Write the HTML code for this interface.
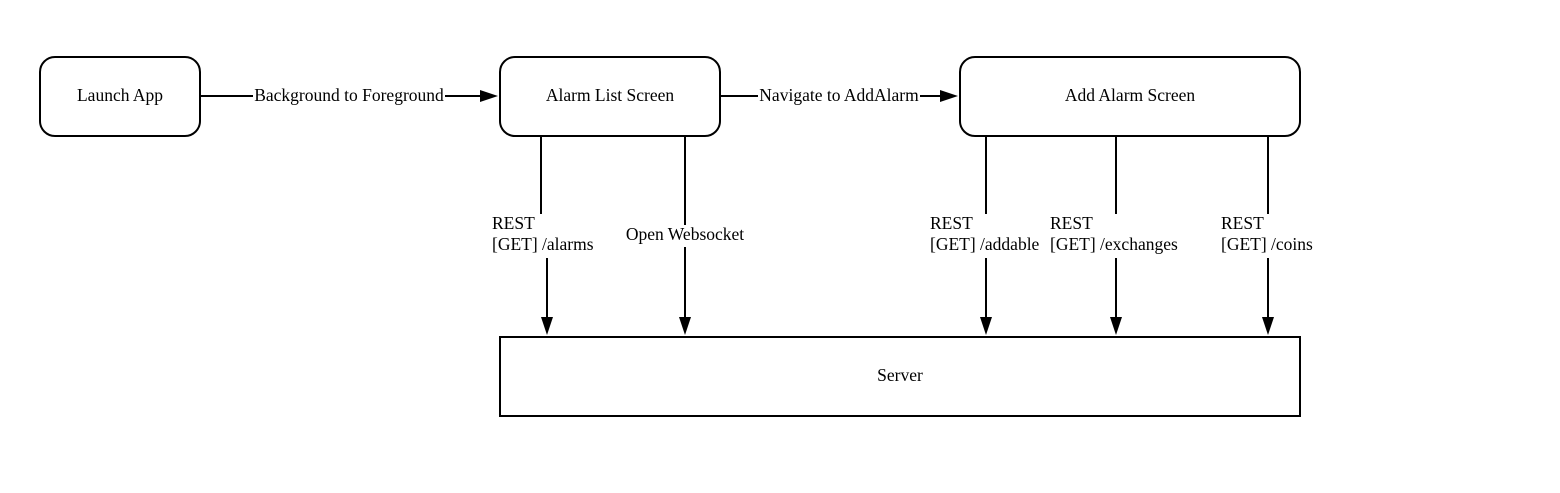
<!DOCTYPE html>
<html><head><meta charset="utf-8"><style>html,body{margin:0;padding:0;background:#fff;}svg{display:block}</style></head>
<body>
<svg width="1560" height="493" viewBox="0 0 1560 493" xmlns="http://www.w3.org/2000/svg" font-family="'Liberation Serif', serif" font-size="17.5" fill="#000">
<rect x="0" y="0" width="1560" height="493" fill="#fff"/>
<g fill="#fff" stroke="#000" stroke-width="2">
<rect x="40" y="57" width="160" height="79" rx="15"/>
<rect x="500" y="57" width="220" height="79" rx="15"/>
<rect x="960" y="57" width="340" height="79" rx="15"/>
<rect x="500" y="337" width="800" height="79"/>
</g>
<g fill="#000" text-anchor="middle">
<text x="120" y="101">Launch App</text>
<text x="610" y="101">Alarm List Screen</text>
<text x="1130" y="101">Add Alarm Screen</text>
<text x="900" y="381">Server</text>
</g>
<g stroke="#000" stroke-width="2" fill="none">
<line x1="200" y1="96" x2="253" y2="96"/>
<line x1="445" y1="96" x2="482" y2="96"/>
<line x1="720" y1="96" x2="758" y2="96"/>
<line x1="920" y1="96" x2="942" y2="96"/>
<line x1="541" y1="136" x2="541" y2="214"/>
<line x1="547" y1="258" x2="547" y2="320"/>
<line x1="685" y1="136" x2="685" y2="225"/>
<line x1="685" y1="247" x2="685" y2="320"/>
<line x1="986" y1="136" x2="986" y2="214"/>
<line x1="986" y1="258" x2="986" y2="320"/>
<line x1="1116" y1="136" x2="1116" y2="214"/>
<line x1="1116" y1="258" x2="1116" y2="320"/>
<line x1="1268" y1="136" x2="1268" y2="214"/>
<line x1="1268" y1="258" x2="1268" y2="320"/>
</g>
<g fill="#000">
<polygon points="498,96 480,90 480,102"/>
<polygon points="958,96 940,90 940,102"/>
<polygon points="547,335 541,317 553,317"/>
<polygon points="685,335 679,317 691,317"/>
<polygon points="986,335 980,317 992,317"/>
<polygon points="1116,335 1110,317 1122,317"/>
<polygon points="1268,335 1262,317 1274,317"/>
</g>
<g fill="#000">
<text x="349" y="101" text-anchor="middle">Background to Foreground</text>
<text x="839" y="101" text-anchor="middle">Navigate to AddAlarm</text>
<text x="492" y="229">REST</text>
<text x="492" y="250">[GET] /alarms</text>
<text x="685" y="240" text-anchor="middle">Open Websocket</text>
<text x="930" y="229">REST</text>
<text x="930" y="250">[GET] /addable</text>
<text x="1050" y="229">REST</text>
<text x="1050" y="250">[GET] /exchanges</text>
<text x="1221" y="229">REST</text>
<text x="1221" y="250">[GET] /coins</text>
</g>
</svg>
</body></html>
